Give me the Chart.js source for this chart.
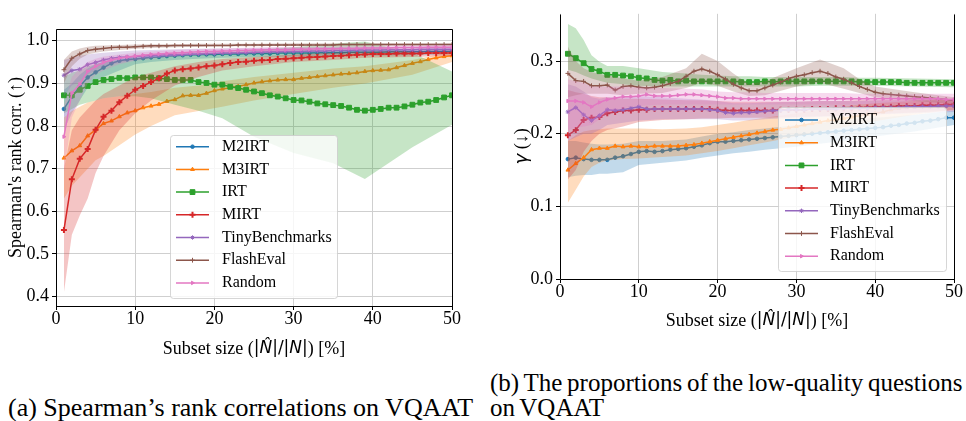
<!DOCTYPE html>
<html>
<head>
<meta charset="utf-8">
<script src="https://cdn.jsdelivr.net/npm/chart.js@4.4.1/dist/chart.umd.min.js"></script>
<style>
  body { margin: 0; background: #fff; width: 966px; height: 421px; overflow: hidden; position: relative; }
  canvas { position: absolute; top: 0; }
  #chartA { left: 0; }
  #chartB { left: 490px; }
  .caption {
    position: absolute;
    font-family: "Liberation Serif", "Times New Roman", serif;
    color: #000;
    white-space: nowrap;
  }
</style>
</head>
<body>
<canvas id="chartA" width="480" height="370"></canvas>
<canvas id="chartB" width="476" height="345"></canvas>
<div class="caption" style="left:8px; top:393px; font-size:26px; line-height:30px;">(a) Spearman’s rank correlations on VQAAT</div>
<div class="caption" style="left:490px; top:370px; font-size:25px; line-height:25px; word-spacing:-1.5px;">(b) The proportions of the low-quality questions<br>on VQAAT</div>

<script>
// ---- data ----------------------------------------------------------------
const subsetSize = [1, 2, 3, 4, 5, 6, 7, 8, 9, 10, 11, 12, 13, 14, 15, 16, 17, 18, 19, 20,
  21, 22, 23, 24, 25, 26, 27, 28, 29, 30, 31, 32, 33, 34, 35, 36, 37, 38, 39, 40,
  41, 42, 43, 44, 45, 46, 47, 48, 49, 50];
const methods = ['M2IRT', 'M3IRT', 'IRT', 'MIRT', 'TinyBenchmarks', 'FlashEval', 'Random'];

// (a) Spearman's rank correlation, mean curves
const corrM2IRT = [0.840, 0.869, 0.893, 0.914, 0.926, 0.937, 0.947, 0.953, 0.956, 0.957,
  0.959, 0.961, 0.962, 0.964, 0.965, 0.966, 0.967, 0.967, 0.968, 0.968,
  0.969, 0.969, 0.969, 0.970, 0.970, 0.970, 0.970, 0.971, 0.971, 0.971,
  0.971, 0.971, 0.972, 0.972, 0.972, 0.972, 0.973, 0.973, 0.973, 0.973,
  0.973, 0.974, 0.974, 0.974, 0.974, 0.974, 0.975, 0.975, 0.975, 0.975];
const corrM3IRT = [0.725, 0.742, 0.754, 0.777, 0.791, 0.806, 0.812, 0.822, 0.831, 0.836,
  0.843, 0.847, 0.851, 0.858, 0.862, 0.871, 0.872, 0.872, 0.877, 0.883,
  0.887, 0.890, 0.893, 0.897, 0.901, 0.904, 0.906, 0.908, 0.909, 0.909,
  0.912, 0.914, 0.916, 0.918, 0.920, 0.922, 0.923, 0.925, 0.928, 0.930,
  0.931, 0.932, 0.937, 0.942, 0.947, 0.951, 0.956, 0.960, 0.963, 0.965];
const corrIRT = [0.872, 0.872, 0.885, 0.894, 0.903, 0.908, 0.910, 0.913, 0.912, 0.914,
  0.914, 0.914, 0.912, 0.910, 0.908, 0.908, 0.908, 0.903, 0.901, 0.897,
  0.897, 0.892, 0.889, 0.885, 0.881, 0.877, 0.872, 0.869, 0.865, 0.861,
  0.860, 0.857, 0.853, 0.851, 0.849, 0.847, 0.843, 0.838, 0.836, 0.838,
  0.840, 0.843, 0.843, 0.846, 0.850, 0.855, 0.857, 0.861, 0.867, 0.872];
const corrMIRT = [0.556, 0.675, 0.723, 0.746, 0.791, 0.822, 0.836, 0.856, 0.871, 0.885,
  0.894, 0.903, 0.912, 0.923, 0.930, 0.933, 0.935, 0.937, 0.940, 0.942,
  0.945, 0.948, 0.950, 0.951, 0.953, 0.954, 0.955, 0.957, 0.958, 0.959,
  0.960, 0.961, 0.962, 0.963, 0.964, 0.965, 0.966, 0.967, 0.968, 0.969,
  0.969, 0.969, 0.970, 0.970, 0.970, 0.970, 0.971, 0.971, 0.971, 0.971];
const corrTiny = [0.919, 0.930, 0.933, 0.944, 0.949, 0.955, 0.959, 0.961, 0.962, 0.963,
  0.964, 0.965, 0.966, 0.967, 0.967, 0.968, 0.969, 0.969, 0.970, 0.970,
  0.971, 0.971, 0.972, 0.972, 0.973, 0.973, 0.974, 0.974, 0.975, 0.975,
  0.975, 0.976, 0.976, 0.976, 0.977, 0.977, 0.977, 0.978, 0.978, 0.978,
  0.978, 0.979, 0.979, 0.979, 0.979, 0.980, 0.980, 0.980, 0.980, 0.980];
const corrFlash = [0.932, 0.959, 0.969, 0.977, 0.980, 0.982, 0.984, 0.985, 0.985, 0.986,
  0.987, 0.988, 0.988, 0.988, 0.989, 0.989, 0.989, 0.989, 0.989, 0.989,
  0.989, 0.989, 0.990, 0.990, 0.990, 0.990, 0.990, 0.990, 0.990, 0.990,
  0.990, 0.990, 0.990, 0.990, 0.990, 0.991, 0.991, 0.991, 0.991, 0.991,
  0.991, 0.991, 0.991, 0.991, 0.991, 0.991, 0.991, 0.991, 0.991, 0.991];
const corrRandom = [0.775, 0.877, 0.898, 0.928, 0.940, 0.949, 0.955, 0.959, 0.962, 0.964,
  0.966, 0.968, 0.969, 0.970, 0.971, 0.972, 0.973, 0.974, 0.975, 0.975,
  0.976, 0.976, 0.977, 0.977, 0.978, 0.978, 0.979, 0.979, 0.979, 0.980,
  0.980, 0.980, 0.981, 0.981, 0.981, 0.982, 0.982, 0.982, 0.983, 0.983,
  0.983, 0.983, 0.984, 0.984, 0.984, 0.984, 0.985, 0.985, 0.985, 0.985];

// (a) shaded ranges, sampled at these subset sizes
const corrBandX = [1, 2, 3, 4, 5, 6, 8, 10, 12, 15, 18, 21, 25, 30, 35, 39, 45, 50];
const corrM2IRTLo = [0.79, 0.83, 0.86, 0.89, 0.905, 0.915, 0.93, 0.945, 0.95, 0.955, 0.958, 0.96, 0.962, 0.963, 0.964, 0.965, 0.966, 0.968];
const corrM2IRTHi = [0.885, 0.90, 0.92, 0.935, 0.945, 0.952, 0.96, 0.965, 0.968, 0.97, 0.972, 0.973, 0.974, 0.975, 0.976, 0.977, 0.978, 0.98];
const corrM3IRTLo = [0.63, 0.66, 0.68, 0.70, 0.72, 0.73, 0.755, 0.78, 0.80, 0.825, 0.835, 0.845, 0.86, 0.875, 0.89, 0.90, 0.92, 0.95];
const corrM3IRTHi = [0.82, 0.835, 0.845, 0.855, 0.86, 0.865, 0.87, 0.875, 0.88, 0.89, 0.895, 0.905, 0.915, 0.925, 0.935, 0.94, 0.955, 0.975];
const corrIRTLo = [0.83, 0.84, 0.85, 0.855, 0.86, 0.865, 0.87, 0.87, 0.865, 0.85, 0.836, 0.818, 0.775, 0.737, 0.713, 0.676, 0.75, 0.803];
const corrIRTHi = [0.915, 0.925, 0.93, 0.94, 0.945, 0.95, 0.955, 0.96, 0.962, 0.965, 0.968, 0.972, 0.978, 0.985, 0.993, 0.998, 0.972, 0.928];
const corrMIRTLo = [0.41, 0.545, 0.59, 0.63, 0.69, 0.73, 0.79, 0.83, 0.86, 0.895, 0.915, 0.93, 0.94, 0.95, 0.955, 0.96, 0.962, 0.965];
const corrMIRTHi = [0.70, 0.79, 0.82, 0.84, 0.86, 0.875, 0.895, 0.915, 0.925, 0.94, 0.95, 0.957, 0.962, 0.968, 0.972, 0.975, 0.977, 0.978];
const corrTinyLo = [0.87, 0.895, 0.905, 0.92, 0.93, 0.94, 0.948, 0.955, 0.96, 0.965, 0.967, 0.969, 0.97, 0.972, 0.973, 0.974, 0.975, 0.976];
const corrTinyHi = [0.955, 0.96, 0.965, 0.968, 0.97, 0.972, 0.975, 0.977, 0.978, 0.98, 0.981, 0.982, 0.983, 0.984, 0.985, 0.985, 0.986, 0.987];
const corrFlashLo = [0.90, 0.94, 0.958, 0.968, 0.972, 0.975, 0.978, 0.981, 0.983, 0.985, 0.986, 0.987, 0.987, 0.988, 0.988, 0.988, 0.988, 0.988];
const corrFlashHi = [0.955, 0.975, 0.982, 0.986, 0.988, 0.989, 0.99, 0.991, 0.992, 0.992, 0.993, 0.993, 0.993, 0.994, 0.994, 0.994, 0.994, 0.994];
const corrRandomLo = [0.69, 0.82, 0.86, 0.90, 0.92, 0.93, 0.945, 0.953, 0.958, 0.963, 0.967, 0.97, 0.972, 0.975, 0.977, 0.978, 0.979, 0.98];
const corrRandomHi = [0.85, 0.915, 0.935, 0.95, 0.958, 0.963, 0.968, 0.972, 0.975, 0.978, 0.98, 0.982, 0.984, 0.986, 0.987, 0.988, 0.989, 0.99];

// (b) proportion of low-quality questions (gamma), mean curves
const gammaM2IRT = [0.165, 0.167, 0.165, 0.164, 0.164, 0.164, 0.167, 0.169, 0.172, 0.175,
  0.176, 0.175, 0.176, 0.178, 0.179, 0.180, 0.182, 0.184, 0.187, 0.189,
  0.189, 0.190, 0.191, 0.192, 0.193, 0.194, 0.195, 0.196, 0.197, 0.198,
  0.199, 0.200, 0.201, 0.202, 0.203, 0.204, 0.205, 0.206, 0.207, 0.208,
  0.209, 0.211, 0.212, 0.214, 0.215, 0.217, 0.218, 0.220, 0.222, 0.222];
const gammaM3IRT = [0.150, 0.159, 0.167, 0.178, 0.180, 0.180, 0.183, 0.182, 0.183, 0.182,
  0.182, 0.183, 0.183, 0.183, 0.183, 0.184, 0.185, 0.187, 0.189, 0.191,
  0.193, 0.195, 0.197, 0.199, 0.201, 0.203, 0.205, 0.206, 0.208, 0.210,
  0.212, 0.214, 0.216, 0.218, 0.219, 0.221, 0.223, 0.225, 0.227, 0.228,
  0.230, 0.233, 0.235, 0.236, 0.237, 0.238, 0.238, 0.239, 0.239, 0.240];
const gammaIRT = [0.310, 0.304, 0.297, 0.289, 0.286, 0.281, 0.281, 0.280, 0.279, 0.277,
  0.276, 0.274, 0.273, 0.274, 0.272, 0.273, 0.272, 0.272, 0.272, 0.272,
  0.272, 0.272, 0.271, 0.271, 0.271, 0.272, 0.271, 0.272, 0.272, 0.272,
  0.272, 0.272, 0.272, 0.272, 0.272, 0.272, 0.272, 0.271, 0.271, 0.271,
  0.271, 0.271, 0.271, 0.270, 0.270, 0.270, 0.270, 0.270, 0.270, 0.270];
const gammaMIRT = [0.198, 0.205, 0.219, 0.222, 0.223, 0.228, 0.230, 0.232, 0.232, 0.233,
  0.233, 0.234, 0.234, 0.234, 0.234, 0.234, 0.234, 0.234, 0.234, 0.233,
  0.232, 0.232, 0.232, 0.232, 0.232, 0.232, 0.232, 0.233, 0.233, 0.233,
  0.233, 0.234, 0.234, 0.234, 0.235, 0.235, 0.235, 0.236, 0.236, 0.237,
  0.237, 0.237, 0.238, 0.238, 0.238, 0.239, 0.239, 0.239, 0.240, 0.240];
const gammaTiny = [0.230, 0.236, 0.226, 0.218, 0.225, 0.233, 0.232, 0.233, 0.235, 0.237,
  0.234, 0.234, 0.234, 0.234, 0.234, 0.234, 0.234, 0.234, 0.233, 0.232,
  0.229, 0.228, 0.229, 0.229, 0.230, 0.231, 0.232, 0.232, 0.233, 0.233,
  0.233, 0.234, 0.234, 0.234, 0.234, 0.235, 0.235, 0.235, 0.235, 0.236,
  0.236, 0.236, 0.236, 0.237, 0.237, 0.237, 0.237, 0.238, 0.238, 0.238];
const gammaFlash = [0.283, 0.273, 0.272, 0.266, 0.266, 0.267, 0.260, 0.265, 0.266, 0.264,
  0.263, 0.264, 0.266, 0.269, 0.272, 0.279, 0.286, 0.289, 0.286, 0.281,
  0.275, 0.268, 0.263, 0.259, 0.259, 0.263, 0.267, 0.271, 0.276, 0.279,
  0.281, 0.284, 0.286, 0.283, 0.278, 0.275, 0.270, 0.265, 0.261, 0.257,
  0.255, 0.254, 0.253, 0.252, 0.251, 0.250, 0.249, 0.248, 0.247, 0.246];
const gammaRandom = [0.245, 0.245, 0.243, 0.237, 0.243, 0.247, 0.249, 0.251, 0.251, 0.252,
  0.254, 0.252, 0.252, 0.252, 0.253, 0.254, 0.254, 0.253, 0.252, 0.251,
  0.249, 0.249, 0.248, 0.248, 0.248, 0.248, 0.248, 0.248, 0.248, 0.248,
  0.248, 0.248, 0.248, 0.248, 0.248, 0.248, 0.248, 0.248, 0.248, 0.248,
  0.248, 0.248, 0.248, 0.248, 0.248, 0.248, 0.248, 0.248, 0.247, 0.247];

// (b) shaded ranges
const gammaBandX = [1, 2, 3, 4, 5, 6, 8, 10, 13, 16, 18, 20, 22, 24, 26, 30, 33, 36, 38, 40, 45, 50];
const gammaM2IRTLo = [0.14, 0.142, 0.143, 0.143, 0.145, 0.145, 0.147, 0.157, 0.16, 0.163, 0.167, 0.17, 0.173, 0.175, 0.178, 0.182, 0.186, 0.19, 0.193, 0.196, 0.203, 0.212];
const gammaM2IRTHi = [0.19, 0.19, 0.188, 0.186, 0.185, 0.185, 0.186, 0.19, 0.19, 0.192, 0.196, 0.2, 0.202, 0.205, 0.207, 0.212, 0.215, 0.218, 0.22, 0.222, 0.226, 0.232];
const gammaM3IRTLo = [0.105, 0.123, 0.141, 0.154, 0.16, 0.163, 0.165, 0.166, 0.168, 0.17, 0.173, 0.176, 0.18, 0.184, 0.188, 0.196, 0.203, 0.209, 0.213, 0.217, 0.226, 0.233];
const gammaM3IRTHi = [0.19, 0.198, 0.203, 0.205, 0.206, 0.207, 0.207, 0.207, 0.206, 0.207, 0.209, 0.212, 0.215, 0.219, 0.222, 0.228, 0.233, 0.237, 0.24, 0.242, 0.245, 0.247];
const gammaIRTLo = [0.288, 0.285, 0.28, 0.276, 0.273, 0.27, 0.268, 0.266, 0.265, 0.265, 0.265, 0.265, 0.265, 0.265, 0.265, 0.265, 0.266, 0.266, 0.266, 0.266, 0.265, 0.264];
const gammaIRTHi = [0.351, 0.345, 0.329, 0.308, 0.299, 0.293, 0.293, 0.29, 0.285, 0.283, 0.281, 0.28, 0.279, 0.279, 0.278, 0.278, 0.278, 0.278, 0.277, 0.277, 0.276, 0.275];
const gammaMIRTLo = [0.137, 0.15, 0.175, 0.19, 0.2, 0.205, 0.21, 0.216, 0.219, 0.22, 0.221, 0.221, 0.222, 0.222, 0.222, 0.223, 0.224, 0.225, 0.226, 0.227, 0.229, 0.232];
const gammaMIRTHi = [0.26, 0.257, 0.255, 0.252, 0.25, 0.25, 0.248, 0.248, 0.247, 0.246, 0.246, 0.245, 0.244, 0.244, 0.244, 0.244, 0.245, 0.245, 0.246, 0.246, 0.247, 0.248];
const gammaTinyLo = [0.19, 0.195, 0.2, 0.2, 0.205, 0.212, 0.215, 0.218, 0.22, 0.22, 0.22, 0.22, 0.218, 0.218, 0.22, 0.222, 0.223, 0.224, 0.225, 0.226, 0.228, 0.23];
const gammaTinyHi = [0.268, 0.265, 0.258, 0.25, 0.248, 0.25, 0.25, 0.252, 0.25, 0.248, 0.247, 0.245, 0.242, 0.242, 0.243, 0.244, 0.245, 0.245, 0.245, 0.246, 0.246, 0.246];
const gammaFlashLo = [0.25, 0.253, 0.255, 0.255, 0.255, 0.255, 0.253, 0.255, 0.256, 0.263, 0.27, 0.266, 0.258, 0.252, 0.253, 0.265, 0.27, 0.262, 0.256, 0.25, 0.245, 0.241];
const gammaFlashHi = [0.32, 0.30, 0.29, 0.285, 0.282, 0.28, 0.276, 0.273, 0.278, 0.29, 0.31, 0.30, 0.283, 0.268, 0.272, 0.29, 0.302, 0.29, 0.275, 0.265, 0.257, 0.25];
const gammaRandomLo = [0.205, 0.208, 0.21, 0.212, 0.22, 0.228, 0.235, 0.238, 0.24, 0.24, 0.24, 0.24, 0.24, 0.24, 0.24, 0.24, 0.24, 0.24, 0.24, 0.24, 0.24, 0.24];
const gammaRandomHi = [0.275, 0.272, 0.27, 0.265, 0.265, 0.265, 0.265, 0.264, 0.263, 0.262, 0.261, 0.258, 0.257, 0.257, 0.256, 0.256, 0.256, 0.256, 0.255, 0.255, 0.255, 0.255];

// ---- styling ---------------------------------------------------------------
const methodColors = ['#1f77b4', '#ff7f0e', '#2ca02c', '#d62728', '#9467bd', '#8c564b', '#e377c2'];
const methodMarkers = [
  { style: 'circle', r: 1.8, bw: 1 },
  { style: 'triangle', r: 2.2, bw: 1 },
  { style: 'rect', r: 3.4, bw: 1 },
  { style: 'cross', r: 3, bw: 2 },
  { style: 'star', r: 2.2, bw: 1 },
  { style: 'cross', r: 2.4, bw: 1 },
  { style: 'triangle', r: 2, bw: 1, rot: 90 }
];

const serif18 = '18px "Liberation Serif"';
const math17 = '17px "DejaVu Sans"';
const mathIt17 = 'italic 17px "DejaVu Sans"';
const xTitle = [['Subset size (', serif18], ['|', math17], ['N\u0302', mathIt17], ['|/|', math17],
  ['N', mathIt17], ['|', math17], [') [%]', serif18]];

Chart.defaults.font.family = 'Liberation Serif';
Chart.defaults.color = '#000';

function withAlpha(hex, a) {
  const n = parseInt(hex.slice(1), 16);
  return 'rgba(' + (n >> 16) + ',' + ((n >> 8) & 255) + ',' + (n & 255) + ',' + a + ')';
}

// band (lower + filled upper) and line for every method, later methods drawn on top
function buildDatasets(means, los, his, bandX) {
  const ds = [];
  means.forEach((mean, k) => {
    const c = methodColors[k];
    const m = methodMarkers[k];
    const loIdx = ds.length;
    ds.push({
      data: bandX.map((x, i) => ({ x: x, y: los[k][i] })),
      borderWidth: 0, borderColor: 'rgba(0,0,0,0)', pointRadius: 0, fill: false,
      order: 100 - 2 * k
    });
    ds.push({
      data: bandX.map((x, i) => ({ x: x, y: his[k][i] })),
      borderWidth: 0, borderColor: 'rgba(0,0,0,0)', pointRadius: 0,
      fill: loIdx, backgroundColor: withAlpha(c, 0.27),
      order: 100 - 2 * k
    });
    ds.push({
      label: methods[k],
      data: subsetSize.map((x, i) => ({ x: x, y: mean[i] })),
      borderColor: c, backgroundColor: c, borderWidth: 1.5,
      pointStyle: m.style, pointRadius: m.r, pointBorderWidth: m.bw, pointRotation: m.rot || 0,
      fill: false, tension: 0,
      order: 100 - 2 * k - 1
    });
  });
  return ds;
}

// ---- plugins ---------------------------------------------------------------
function drawSegments(ctx, segs, cx, cy) {
  let total = 0;
  segs.forEach(s => { ctx.font = s[1]; total += ctx.measureText(s[0]).width; });
  let x = cx - total / 2;
  ctx.textBaseline = 'middle';
  ctx.textAlign = 'left';
  segs.forEach(s => {
    ctx.font = s[1];
    ctx.fillText(s[0], x, cy);
    x += ctx.measureText(s[0]).width;
  });
}

const axisTitles = {
  id: 'axisTitles',
  afterDraw(chart, args, opts) {
    const ctx = chart.ctx, a = chart.chartArea;
    ctx.save();
    ctx.fillStyle = '#000';
    drawSegments(ctx, opts.x, (a.left + a.right) / 2, a.bottom + opts.xOffset);
    ctx.translate(opts.yPos, (a.top + a.bottom) / 2);
    ctx.rotate(-Math.PI / 2);
    drawSegments(ctx, opts.y, 0, 0);
    ctx.restore();
  }
};

const frame = {
  id: 'frame',
  afterDatasetsDraw(chart, args, opts) {
    const ctx = chart.ctx, a = chart.chartArea;
    const l = Math.round(a.left) + 0.5, r = Math.round(a.right) + 0.5;
    const t = Math.round(a.top) + 0.5, b = Math.round(a.bottom) + 0.5;
    ctx.save();
    ctx.strokeStyle = '#000';
    ctx.lineWidth = 1;
    ctx.beginPath();
    ctx.moveTo(l, b); ctx.lineTo(r, b); ctx.lineTo(r, t);
    if (opts.top) ctx.lineTo(l, t); else ctx.moveTo(l, t);
    ctx.lineTo(l, b);
    ctx.stroke();
    ctx.restore();
  }
};

const innerLegend = {
  id: 'innerLegend',
  afterDraw(chart, args, o) {
    const ctx = chart.ctx;
    ctx.save();
    ctx.beginPath();
    ctx.roundRect(o.x + 0.5, o.y + 0.5, o.w, o.h, 3);
    ctx.fillStyle = 'rgba(255,255,255,0.8)';
    ctx.fill();
    ctx.strokeStyle = 'rgba(204,204,204,0.8)';
    ctx.lineWidth = 1;
    ctx.stroke();
    const items = chart.data.datasets.filter(d => d.label);
    items.forEach((d, i) => {
      const cy = o.y + o.firstRow + i * o.rowH;
      ctx.strokeStyle = d.borderColor;
      ctx.fillStyle = d.borderColor;
      ctx.lineWidth = 1.5;
      ctx.beginPath();
      ctx.moveTo(o.handleX0, cy);
      ctx.lineTo(o.handleX1, cy);
      ctx.stroke();
      ctx.lineWidth = d.pointBorderWidth;
      Chart.helpers.drawPoint(ctx, {
        pointStyle: d.pointStyle, radius: d.pointRadius,
        rotation: d.pointRotation, borderWidth: d.pointBorderWidth
      }, (o.handleX0 + o.handleX1) / 2, cy);
      ctx.fillStyle = '#000';
      ctx.font = '16px "Liberation Serif"';
      ctx.textBaseline = 'middle';
      ctx.textAlign = 'left';
      ctx.fillText(d.label, o.textX, cy);
    });
    ctx.restore();
  }
};

function chartOptions(cfg) {
  const tickFont = { family: 'Liberation Serif', size: 18 };
  return {
    responsive: false,
    animation: false,
    devicePixelRatio: 1,
    layout: { padding: cfg.padding },
    plugins: {
      legend: { display: false },
      tooltip: { enabled: false },
      frame: { top: cfg.frameTop },
      axisTitles: { x: xTitle, xOffset: cfg.xTitleOffset, y: cfg.yTitle, yPos: cfg.yTitlePos },
      innerLegend: cfg.legend
    },
    scales: {
      x: {
        type: 'linear', min: 0, max: 50,
        afterFit: s => { s.height = cfg.xHeight; },
        grid: { color: '#cfcfcf', lineWidth: 1, tickColor: '#000', tickLength: 4 },
        border: { display: false },
        ticks: { stepSize: 10, padding: -2, font: tickFont, maxRotation: 0, includeBounds: false }
      },
      y: {
        type: 'linear', min: cfg.yMin, max: cfg.yMax,
        afterFit: s => { s.width = cfg.yWidth; },
        grid: { color: '#cfcfcf', lineWidth: 1, tickColor: '#000', tickLength: 4 },
        border: { display: false },
        ticks: { stepSize: 0.1, padding: 3, font: tickFont, includeBounds: false,
          callback: v => v.toFixed(1) }
      }
    }
  };
}

// ---- (a) ------------------------------------------------------------------
new Chart(document.getElementById('chartA'), {
  type: 'line',
  data: {
    datasets: buildDatasets(
      [corrM2IRT, corrM3IRT, corrIRT, corrMIRT, corrTiny, corrFlash, corrRandom],
      [corrM2IRTLo, corrM3IRTLo, corrIRTLo, corrMIRTLo, corrTinyLo, corrFlashLo, corrRandomLo],
      [corrM2IRTHi, corrM3IRTHi, corrIRTHi, corrMIRTHi, corrTinyHi, corrFlashHi, corrRandomHi],
      corrBandX)
  },
  options: chartOptions({
    padding: { top: 29, right: 28, left: 0, bottom: 0 },
    xHeight: 64, yWidth: 56,
    yMin: 0.378, yMax: 1.0275,
    frameTop: true,
    xTitleOffset: 43,
    yTitle: [['Spearman\'s rank corr. (\u2191)', serif18]],
    yTitlePos: 16,
    legend: { x: 170, y: 135, w: 167, h: 163, firstRow: 11.7, rowH: 22.7, handleX0: 176, handleX1: 209, textX: 222 }
  }),
  plugins: [frame, axisTitles, innerLegend]
});

// ---- (b) ------------------------------------------------------------------
new Chart(document.getElementById('chartB'), {
  type: 'line',
  data: {
    datasets: buildDatasets(
      [gammaM2IRT, gammaM3IRT, gammaIRT, gammaMIRT, gammaTiny, gammaFlash, gammaRandom],
      [gammaM2IRTLo, gammaM3IRTLo, gammaIRTLo, gammaMIRTLo, gammaTinyLo, gammaFlashLo, gammaRandomLo],
      [gammaM2IRTHi, gammaM3IRTHi, gammaIRTHi, gammaMIRTHi, gammaTinyHi, gammaFlashHi, gammaRandomHi],
      gammaBandX)
  },
  options: chartOptions({
    padding: { top: 1, right: 12, left: 0, bottom: 0 },
    xHeight: 66, yWidth: 70,
    yMin: 0, yMax: 0.365,
    frameTop: false,
    xTitleOffset: 42,
    yTitle: [['\u03b3', 'italic 18px "DejaVu Sans"'], [' (\u2193)', serif18]],
    yTitlePos: 32,
    legend: { x: 288, y: 107, w: 168, h: 164, firstRow: 13, rowH: 22.7, handleX0: 295, handleX1: 328, textX: 340 }
  }),
  plugins: [frame, axisTitles, innerLegend]
});
</script>
</body>
</html>
